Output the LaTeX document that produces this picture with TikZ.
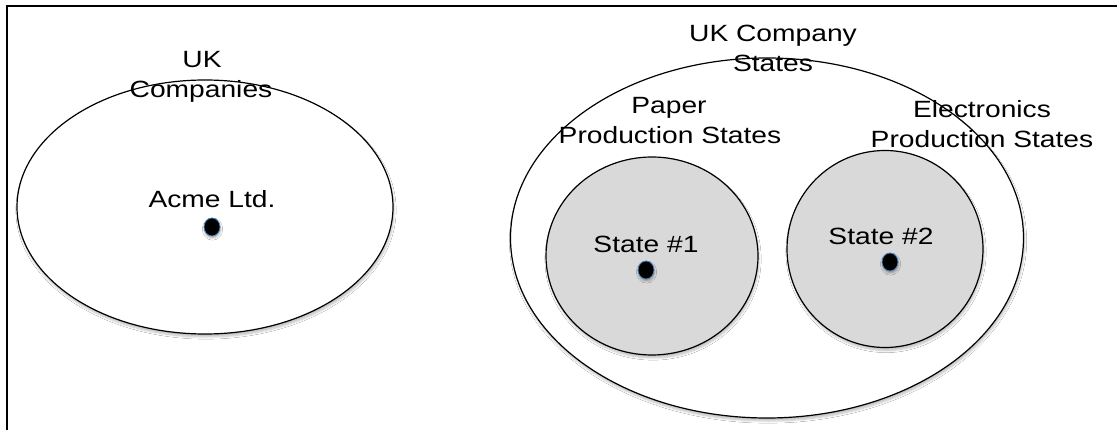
\documentclass[tikz,border=0pt]{standalone}
\usepackage{fontspec}
\setmainfont[FakeStretch=1.2]{Liberation Sans}
\usetikzlibrary{shapes.geometric,shadows.blur}
\definecolor{setfill}{HTML}{D9D9D9}
\definecolor{glow}{HTML}{4A7EBB}
\begin{document}
\begin{tikzpicture}[x=1pt,y=-1pt,
  every node/.style={inner sep=0pt,outer sep=0pt},
  lbl/.style={font=\fontsize{23.5}{30}\selectfont,align=center,anchor=base},
  setshape/.style={ellipse,draw=black,line width=1.2pt,
    blur shadow={shadow xshift=1pt,shadow yshift=-3pt,shadow blur steps=6,shadow opacity=25}},
  subset/.style={setshape,fill=setfill},
  outerset/.style={setshape,fill=white},
  member/.style={ellipse,fill=black,draw=glow,line width=0.8pt,
    minimum width=16pt,minimum height=18pt,
    blur shadow={shadow xshift=0.5pt,shadow yshift=-2pt,shadow blur steps=4,shadow opacity=35}},
  frameline/.style={line width=1.4pt}]
\useasboundingbox (0,0) rectangle (1117,430);
\fill[white] (0,0) rectangle (1117,430);

% outer frame (top and left edges)
\coordinate (fbl) at (7,432);
\coordinate (ftl) at (7,6);
\coordinate (ftr) at (1119,6);
\draw[frameline] (fbl) -- (ftl) -- (ftr);

% left set: UK companies
\node[outerset,minimum width=376pt,minimum height=254pt] (companies) at (205,207) {};
\node[lbl] (ukc1) at (202,68) {UK};
\node[lbl] (ukc2) at (201,98) {Companies};
\node[lbl] (acme) at (212,208) {Acme Ltd.};
\node[member] (acmedot) at (212,227) {};

% right set: UK company states
\node[outerset,minimum width=513pt,minimum height=360pt] (states) at (767,238) {};
\node[lbl] (ucs1) at (773,42) {UK Company};
\node[lbl] (ucs2) at (773,72) {States};

% paper production states
\node[subset,minimum width=212pt,minimum height=198pt] (paper) at (652,256) {};
\node[lbl] (pps1) at (669,114) {Paper};
\node[lbl] (pps2) at (670,144) {Production States};
\node[lbl] (st1) at (646,253) {State \#1};
\node[member] (st1dot) at (646,270) {};

% electronics production states
\node[subset,minimum width=196pt,minimum height=197pt] (elec) at (885,249) {};
\node[lbl] (eps1) at (982,118) {Electronics};
\node[lbl] (eps2) at (982,148) {Production States};
\node[lbl] (st2) at (881,245) {State \#2};
\node[member] (st2dot) at (890,262) {};
\end{tikzpicture}
\end{document}
